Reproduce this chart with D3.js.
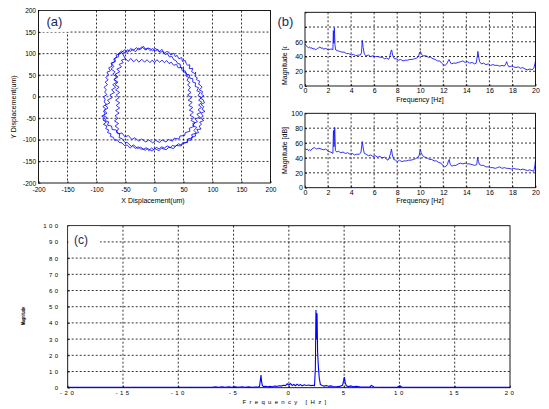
<!DOCTYPE html>
<html>
<head>
<meta charset="utf-8">
<script src="https://cdn.jsdelivr.net/npm/d3@7"></script>
<style>
  body { margin: 0; background: #fff; }
  svg { display: block; font-family: "Liberation Sans", Arial, sans-serif; }
</style>
</head>
<body>
<svg id="canvas" width="549" height="409"></svg>
<script>
// ---- data ----

// (a) orbit, three laps that wander across the band (um)
var orbitOuter = [[-62,100],[-57,106],[-50,101],[-47,109],[-41,105],[-38,111],[-33,104],[-28,113],[-24,110],[-19,117],[-15,108],[-11,113],[-7,111],[-3,106],[1,112],[5,109],[8,104],[13,110],[17,101],[21,105],[25,103],[28,97],[33,101],[36,93],[39,96],[42,88],[47,91],[48,82],[53,84],[55,76],[57,73],[61,74],[60,65],[66,66],[64,58],[69,54],[71,57],[70,47],[74,44],[72,40],[78,36],[76,29],[79,27],[82,22],[77,16],[83,12],[81,6],[85,2],[79,-3],[84,-7],[86,-14],[80,-18],[85,-23],[82,-29],[87,-34],[80,-38],[84,-45],[79,-49],[85,-55],[78,-59],[81,-64],[77,-68],[80,-75],[73,-76],[76,-83],[70,-86],[71,-91],[64,-94],[63,-101],[58,-100],[55,-106],[50,-108],[46,-112],[41,-109],[36,-115],[31,-113],[27,-118],[22,-114],[17,-119],[12,-116],[8,-121],[3,-117],[-1,-123],[-5,-119],[-10,-125],[-14,-118],[-19,-122],[-24,-121],[-28,-116],[-33,-120],[-38,-114],[-42,-119],[-47,-112],[-52,-113],[-56,-107],[-61,-106],[-64,-100],[-69,-101],[-71,-94],[-76,-92],[-75,-86],[-81,-83],[-79,-77],[-84,-74],[-82,-68],[-88,-64],[-83,-59],[-89,-54],[-86,-49],[-91,-45],[-85,-40],[-88,-33],[-84,-28],[-89,-23],[-83,-17],[-87,-12],[-85,-6],[-88,0],[-82,5],[-86,11],[-83,16],[-87,22],[-81,28],[-85,34],[-80,39],[-84,45],[-79,50],[-82,57],[-76,60],[-79,67],[-73,71],[-75,78],[-69,81],[-70,88],[-65,91],[-66,97],[-60,99]];
var orbitMiddle = [[-56,104],[-51,109],[-46,103],[-41,112],[-37,107],[-31,114],[-27,108],[-22,116],[-17,110],[-12,113],[-8,107],[-3,112],[1,106],[6,110],[9,103],[14,105],[18,98],[22,100],[26,92],[30,94],[33,86],[37,84],[40,77],[44,76],[45,68],[50,66],[50,58],[55,55],[54,48],[59,45],[56,38],[61,33],[57,27],[62,22],[58,15],[63,10],[57,4],[64,-2],[58,-8],[65,-13],[59,-20],[66,-25],[60,-31],[67,-36],[61,-43],[68,-48],[63,-55],[70,-60],[66,-67],[73,-71],[68,-78],[72,-84],[64,-88],[66,-95],[57,-98],[57,-106],[48,-107],[46,-114],[37,-113],[33,-120],[25,-117],[20,-123],[12,-119],[8,-125],[0,-120],[-4,-126],[-12,-120],[-16,-124],[-24,-117],[-29,-120],[-36,-112],[-40,-115],[-47,-106],[-51,-106],[-56,-97],[-61,-95],[-60,-86],[-66,-82],[-62,-74],[-68,-68],[-62,-62],[-69,-56],[-63,-50],[-68,-44],[-61,-38],[-67,-32],[-60,-26],[-66,-20],[-60,-14],[-67,-8],[-61,-2],[-66,4],[-60,10],[-67,16],[-61,22],[-68,28],[-63,34],[-70,40],[-65,46],[-72,52],[-68,58],[-75,64],[-70,70],[-74,77],[-67,82],[-69,89],[-62,93],[-62,100],[-56,102]];
var orbitInner = [[-50,88],[-45,82],[-41,89],[-36,81],[-31,87],[-27,80],[-22,87],[-17,80],[-13,86],[-8,79],[-4,85],[0,79],[4,86],[9,80],[13,85],[17,79],[21,84],[25,77],[29,80],[33,73],[38,75],[41,67],[46,68],[48,60],[53,60],[55,52],[60,51],[61,43],[66,42],[66,34],[71,32],[70,24],[76,21],[73,14],[79,10],[75,3],[81,-2],[76,-8],[82,-13],[76,-19],[81,-25],[75,-30],[80,-36],[73,-41],[78,-47],[70,-52],[74,-58],[66,-62],[68,-69],[60,-73],[61,-80],[53,-83],[52,-90],[44,-91],[42,-98],[34,-96],[31,-103],[24,-99],[20,-105],[13,-100],[9,-106],[2,-101],[-3,-107],[-10,-100],[-15,-105],[-22,-98],[-27,-103],[-34,-95],[-39,-99],[-45,-90],[-51,-93],[-56,-84],[-63,-86],[-66,-77],[-73,-76],[-74,-68],[-81,-66],[-79,-58],[-86,-55],[-82,-48],[-88,-44],[-82,-38],[-87,-32],[-80,-26],[-85,-20],[-77,-14],[-81,-8],[-73,-2],[-77,4],[-69,10],[-74,16],[-67,22],[-72,28],[-65,34],[-70,40],[-63,46],[-68,52],[-60,58],[-65,64],[-57,69],[-61,75],[-54,79],[-57,85],[-50,88]];

// (b) upper spectrum [Hz, magnitude]
var specUpper = [[0,57],[0.1,55],[0.2,53],[0.3,52],[0.4,53],[0.5,51],[0.6,52],[0.7,50],[0.8,51],[0.9,49],[1.0,50],[1.1,51],[1.2,52],[1.3,53],[1.4,51],[1.5,52],[1.6,50],[1.8,51],[2.0,49],[2.2,50],[2.35,50],[2.42,49],[2.46,75],[2.5,58],[2.55,79],[2.6,56],[2.66,49],[2.8,48],[3.0,47],[3.2,46],[3.4,46],[3.6,44],[3.8,44],[4.0,42],[4.2,43],[4.4,41],[4.6,42],[4.8,42],[4.9,45],[4.97,62],[5.05,52],[5.15,43],[5.3,41],[5.5,42],[5.7,40],[5.9,41],[6.1,40],[6.3,40],[6.5,39],[6.7,39],[6.9,37],[7.1,38],[7.25,36],[7.35,39],[7.45,47],[7.52,49],[7.6,42],[7.75,37],[7.9,37],[8.1,35],[8.3,36],[8.5,34],[8.7,35],[8.9,35],[9.1,36],[9.3,36],[9.5,37],[9.7,38],[9.85,40],[9.95,46],[10.02,47],[10.1,43],[10.25,41],[10.5,41],[10.7,39],[10.9,39],[11.1,37],[11.3,36],[11.5,34],[11.7,34],[11.85,31],[12.0,29],[12.15,28],[12.3,30],[12.42,34],[12.5,36],[12.58,33],[12.7,30],[12.9,31],[13.1,31],[13.3,32],[13.5,33],[13.7,34],[13.9,32],[14.1,33],[14.3,31],[14.5,32],[14.7,30],[14.85,31],[14.95,40],[15.0,47],[15.07,40],[15.15,33],[15.3,30],[15.5,31],[15.7,29],[15.9,30],[16.1,28],[16.3,29],[16.5,28],[16.7,28],[16.9,27],[17.1,28],[17.3,27],[17.42,30],[17.5,33],[17.58,29],[17.7,26],[17.9,27],[18.1,26],[18.3,25],[18.5,26],[18.7,24],[18.9,25],[19.1,23],[19.3,22],[19.5,23],[19.7,22],[19.85,24],[19.95,30],[20,34]];

// (b) lower spectrum [Hz, dB]
var specLower = [[0,53],[0.1,51],[0.2,52],[0.3,50],[0.4,51],[0.5,50],[0.6,52],[0.7,53],[0.8,54],[0.9,53],[1.0,52],[1.2,53],[1.4,52],[1.6,51],[1.8,52],[2.0,49],[2.2,48],[2.35,47],[2.42,46],[2.47,77],[2.52,55],[2.58,81],[2.64,50],[2.75,48],[2.9,49],[3.1,47],[3.3,48],[3.5,46],[3.7,47],[3.9,45],[4.1,46],[4.3,44],[4.5,45],[4.7,45],[4.85,47],[4.97,62],[5.06,52],[5.15,46],[5.3,45],[5.5,43],[5.7,44],[5.9,42],[6.1,43],[6.3,41],[6.5,42],[6.7,40],[6.9,41],[7.1,38],[7.2,37],[7.3,40],[7.42,46],[7.5,52],[7.58,44],[7.7,38],[7.85,37],[8.0,35],[8.2,37],[8.4,35],[8.6,36],[8.8,36],[9.0,37],[9.2,37],[9.4,38],[9.6,39],[9.8,41],[9.92,44],[10.0,52],[10.08,47],[10.2,43],[10.4,41],[10.6,40],[10.8,38],[11.0,38],[11.2,36],[11.4,36],[11.6,34],[11.8,33],[11.95,30],[12.1,28],[12.25,29],[12.35,31],[12.45,36],[12.52,38],[12.6,31],[12.75,29],[12.9,30],[13.1,30],[13.3,32],[13.5,33],[13.7,32],[13.9,33],[14.1,32],[14.3,32],[14.5,31],[14.7,30],[14.9,31],[14.98,41],[15.05,35],[15.15,31],[15.3,30],[15.5,30],[15.7,28],[15.9,28],[16.1,27],[16.3,27],[16.5,26],[16.7,27],[16.9,28],[17.1,26],[17.3,27],[17.5,26],[17.7,26],[17.9,25],[18.1,26],[18.3,25],[18.5,25],[18.7,24],[18.9,25],[19.1,24],[19.3,23],[19.5,24],[19.7,23],[19.85,22],[19.95,30],[20,37]];

// (c) two-sided spectrum [Hz, magnitude]
var specFull = [[-20,0.3],[-7,0.3],[-6.6,0.6],[-6.4,0.3],[-6.0,0.6],[-5.8,0.3],[-5.4,0.6],[-5.2,0.3],[-4.8,0.5],[-4.6,0.3],[-4.2,0.6],[-4.0,0.3],[-3.6,0.5],[-3.4,0.3],[-3.0,0.4],[-2.8,0.4],[-2.65,0.8],[-2.57,5],[-2.52,7.8],[-2.47,4],[-2.4,1.5],[-2.3,0.7],[-2.1,0.9],[-1.9,0.6],[-1.7,0.8],[-1.5,0.6],[-1.3,1.0],[-1.1,0.8],[-0.9,1.2],[-0.7,1.0],[-0.5,1.5],[-0.3,1.3],[-0.15,2.4],[0,1.6],[0.15,2.6],[0.3,1.4],[0.45,2.0],[0.6,1.2],[0.75,2.2],[0.9,1.3],[1.05,1.9],[1.2,1.2],[1.4,1.8],[1.6,1.4],[1.8,1.7],[2.0,1.3],[2.2,1.5],[2.32,1.2],[2.4,12],[2.45,48],[2.5,30],[2.55,46],[2.6,22],[2.67,13],[2.75,6],[2.85,2],[3.0,1.4],[3.2,1.0],[3.4,1.3],[3.6,0.8],[3.8,1.1],[4.0,0.7],[4.3,0.6],[4.6,0.8],[4.85,1.5],[4.95,4],[5.02,6.5],[5.1,3],[5.2,1.2],[5.4,0.7],[5.6,1.1],[5.8,0.6],[6.1,0.8],[6.5,0.4],[7,0.4],[7.35,0.5],[7.45,1.4],[7.55,1.0],[7.7,0.4],[8.5,0.3],[9.8,0.3],[9.95,0.9],[10.05,1.1],[10.2,0.4],[11,0.3],[20,0.3]];

// tick values
var ticksOrbit = [-200,-150,-100,-50,0,50,100,150,200];
var ticksHalfFreq = [0,2,4,6,8,10,12,14,16,18,20];
var ticksMag = [0,20,40,60,80,100];
var ticksFullFreq = [-20,-15,-10,-5,0,5,10,15,20];
var ticksFullMag = [0,10,20,30,40,50,60,70,80,90,100];

(function() {
  var svg = d3.select("#canvas");
  var clipId = 0;

  // one matlab-style axes box with dashed grid
  function panel(cfg) {
    var g = svg.append("g");
    var x = d3.scaleLinear().domain(cfg.xDom).range([cfg.left, cfg.right]);
    var y = d3.scaleLinear().domain(cfg.yDom).range([cfg.bottom, cfg.top]);

    g.append("g").selectAll("line")
      .data(cfg.xTicks.slice(1, -1))
      .join("line")
      .attr("x1", d => x(d)).attr("x2", d => x(d))
      .attr("y1", cfg.top).attr("y2", cfg.bottom)
      .attr("stroke", "#000").attr("stroke-width", 0.8)
      .attr("stroke-dasharray", "2,2");
    g.append("g").selectAll("line")
      .data(cfg.yTicks.slice(1, -1))
      .join("line")
      .attr("y1", d => y(d)).attr("y2", d => y(d))
      .attr("x1", cfg.left).attr("x2", cfg.right)
      .attr("stroke", "#000").attr("stroke-width", 0.8)
      .attr("stroke-dasharray", "2,2");

    var id = "clip" + (clipId++);
    svg.append("clipPath").attr("id", id)
      .append("rect")
      .attr("x", cfg.left).attr("y", cfg.top - 1)
      .attr("width", cfg.right - cfg.left).attr("height", cfg.bottom - cfg.top + 1);
    var plot = g.append("g").attr("clip-path", "url(#" + id + ")");

    var fmt = d => String(d);
    var xa = g.append("g").attr("transform", "translate(0," + cfg.bottom + ")")
      .call(d3.axisBottom(x).tickValues(cfg.xTicks).tickSize(-2).tickPadding(cfg.xPad).tickFormat(fmt));
    var ya = g.append("g").attr("transform", "translate(" + cfg.left + ",0)")
      .call(d3.axisLeft(y).tickValues(cfg.yTicks).tickSize(-2).tickPadding(cfg.yPad).tickFormat(fmt));
    [xa, ya].forEach(function(a) {
      a.select(".domain").remove();
      a.attr("font-family", null).attr("font-size", null);
      a.selectAll("line").attr("stroke", "#000").attr("stroke-width", 0.7);
      a.selectAll("text").attr("fill", "#000")
        .style("font-size", cfg.fontSize + "px")
        .style("letter-spacing", (cfg.spacing || 0) + "px");
    });

    g.append("rect")
      .attr("x", cfg.left).attr("y", cfg.top)
      .attr("width", cfg.right - cfg.left).attr("height", cfg.bottom - cfg.top)
      .attr("fill", "none").attr("stroke", "#000").attr("stroke-width", 0.9);

    return { x: x, y: y, g: g, plot: plot };
  }

  function whiteBox(bx, by, bw, bh) {
    svg.append("rect").attr("x", bx).attr("y", by).attr("width", bw).attr("height", bh).attr("fill", "#fff");
  }

  function tag(txt, tx, ty, size) {
    svg.append("text").attr("x", tx).attr("y", ty)
      .style("font-size", size + "px").attr("fill", "#1c2a5a").text(txt);
  }

  function title(txt, x, y, size, rot, extra) {
    var t = svg.append("text")
      .attr("transform", "translate(" + x + "," + y + ")" + (rot ? " rotate(-90)" : ""))
      .attr("text-anchor", "middle")
      .style("font-size", size + "px")
      .attr("fill", "#000")
      .text(txt);
    if (extra) extra(t);
    return t;
  }

  // ---- (a) orbit ----
  var pa = panel({ left: 38.5, right: 270.5, top: 10.5, bottom: 183,
    xDom: [-200, 200], yDom: [-200, 200], xTicks: ticksOrbit, yTicks: ticksOrbit,
    xPad: 4, yPad: 2.5, fontSize: 6.5 });
  var orbit = orbitOuter.concat(orbitMiddle, orbitInner);
  pa.plot.append("path")
    .datum(orbit)
    .attr("d", d3.line().x(d => pa.x(d[0])).y(d => pa.y(d[1])))
    .attr("fill", "none").attr("stroke", "#0000ff").attr("stroke-width", 0.8);
  title("X Displacement(um)", 153, 202.5, 7);
  title("Y Displacement(um)", 16, 107, 7, true);

  // ---- (b) two one-sided spectra ----
  var pb1 = panel({ left: 305, right: 535.5, top: 12.3, bottom: 86,
    xDom: [0, 20], yDom: [0, 100], xTicks: ticksHalfFreq, yTicks: ticksMag,
    xPad: 2, yPad: 2, fontSize: 7 });
  var pb2 = panel({ left: 305, right: 535.5, top: 113.3, bottom: 187.7,
    xDom: [0, 20], yDom: [0, 100], xTicks: ticksHalfFreq, yTicks: ticksMag,
    xPad: 2, yPad: 2, fontSize: 7 });
  [[pb1, specUpper], [pb2, specLower]].forEach(function(p) {
    var pan = p[0];
    pan.plot.append("path")
      .datum(p[1])
      .attr("d", d3.line().x(d => pan.x(d[0])).y(d => pan.y(d[1])))
      .attr("fill", "none").attr("stroke", "#1a1aff").attr("stroke-width", 0.9);
  });
  title("Frequency [Hz]", 420, 102, 7);
  title("Frequency [Hz]", 420, 202.5, 7);
  title("Magnitude [dB]", 286.5, 61.5, 7, true);
  title("Magnitude [dB]", 286.5, 150.5, 7, true);

  // ---- (c) two-sided spectrum ----
  var pc = panel({ left: 67.7, right: 510, top: 225.7, bottom: 387.7,
    xDom: [-20, 20], yDom: [0, 100], xTicks: ticksFullFreq, yTicks: ticksFullMag,
    xPad: 3, yPad: 7, fontSize: 6, spacing: 2.5 });
  pc.plot.append("path")
    .datum(specFull)
    .attr("d", d3.line().x(d => pc.x(d[0])).y(d => pc.y(d[1])))
    .attr("fill", "none").attr("stroke", "#0000ff").attr("stroke-width", 1.1);
  title("Frequency [Hz]", 286, 404, 6, false, t => t.style("letter-spacing", "3.3px"));
  title("Magnitude", 25, 316, 5, true, t => t.style("font-weight", "bold")
    .attr("textLength", 18).attr("lengthAdjust", "spacingAndGlyphs"));

  // panel tags with white boxes behind
  whiteBox(39.4, 10.9, 30.6, 21);
  tag("(a)", 46.5, 26, 13);
  whiteBox(272, 0, 31.5, 33);
  whiteBox(272, 33, 19, 13.5);
  tag("(b)", 277.5, 26, 13);
  whiteBox(68.3, 226.3, 31.7, 24);
  tag("(c)", 74, 244, 12);
})();
</script>
</body>
</html>
